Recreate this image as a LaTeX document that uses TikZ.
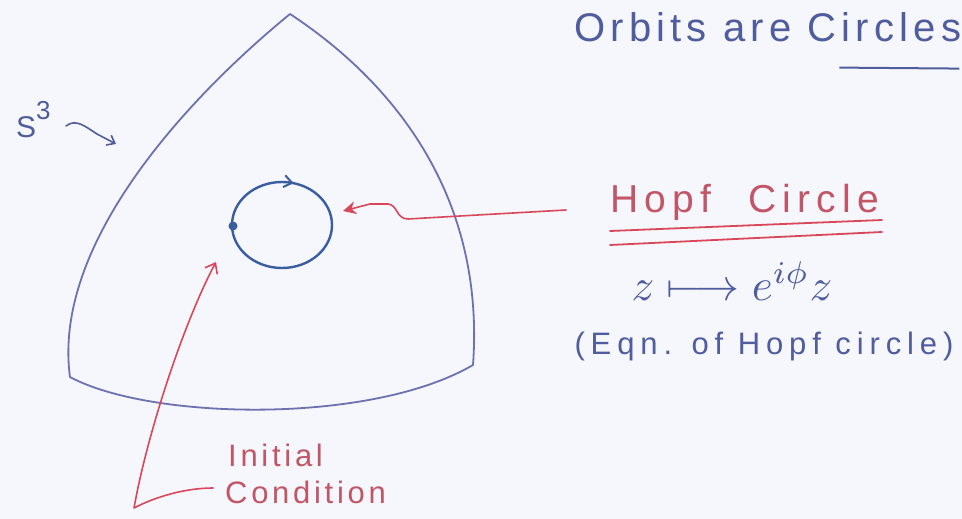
\documentclass[tikz,border=0pt]{standalone}
\usepackage{fontspec}
\usepackage{graphicx}
\setmainfont{Liberation Sans}
\newfontfamily\titlefont[LetterSpace=13]{Liberation Sans}
\newfontfamily\hopffont[LetterSpace=16]{Liberation Sans}
\newfontfamily\eqnfont[LetterSpace=19]{Liberation Sans}
\newfontfamily\icfont[LetterSpace=12]{Liberation Sans}
\newfontfamily\sfont[LetterSpace=6]{Liberation Sans}
\usetikzlibrary{arrows.meta,decorations.markings}
\definecolor{bgcol}{HTML}{F5F7FC}
\definecolor{tricol}{HTML}{6E70B0}
\definecolor{inkcol}{HTML}{4F5C9E}
\definecolor{circcol}{HTML}{3A5DA0}
\definecolor{redink}{HTML}{D9485A}
\definecolor{redtext}{HTML}{C25566}
\tikzset{
  edgeline/.style={draw=tricol, line width=1.8pt, line cap=round, line join=round},
  bluetext/.style={text=inkcol, inner sep=0pt},
  redlabel/.style={text=redtext, inner sep=0pt},
  redarrow/.style={draw=redink, line width=1.6pt, line cap=round, line join=round},
  redline/.style={draw=redink, line width=1.8pt, line cap=round},
}
\begin{document}
\begin{tikzpicture}[x=1pt,y=-1pt]
\fill[bgcol] (0,0) rectangle (962,519);
\useasboundingbox (0,0) rectangle (962,519);

% curvilinear triangle (S^3)
\coordinate (T) at (290,14);
\coordinate (L) at (70,377);
\coordinate (R) at (473,365);
\draw[edgeline] (T) .. controls (185,100) and (52,245) .. (L)
  .. controls (150,420) and (370,425) .. (R)
  .. controls (485,200) and (398,85) .. (T);

% S^3 label
\node[bluetext, anchor=base west, font=\sfont\fontsize{30}{32}\selectfont] (s3) at (16,137) {S\raisebox{18pt}{\fontsize{26}{28}\selectfont 3}};
\coordinate (s3start) at (66,126);
\coordinate (s3tip) at (116,144);
\draw[draw=inkcol, line width=1.6pt, line cap=round, -{Straight Barb[length=7pt,width=11pt]}]
  (s3start) .. controls (76,118) and (86,127) .. (97,134) -- (s3tip);

% Hopf circle
\coordinate (hc) at (282,225);
\draw[draw=circcol, line width=2.4pt, postaction={decorate},
  decoration={markings, mark=at position 0.29 with {\arrow{Straight Barb[length=8pt,width=12pt,line width=2pt]}}}]
  (232,225) arc[start angle=180, end angle=540, x radius=50, y radius=43];
\fill[circcol] (233,226) circle[radius=4.5];

% title
\node[bluetext, anchor=base west, font=\titlefont\fontsize{40}{44}\selectfont] (title) at (574,42) {Orbits are Circles};
\draw[draw=inkcol, line width=2pt] ([xshift=-122pt,yshift=-25pt]title.south east) -- ([xshift=-2pt,yshift=-26pt]title.south east);

% Hopf Circle label
\node[redlabel, anchor=base west, font=\hopffont\fontsize{39}{42}\selectfont] (hopf) at (610,212) {Hopf\hspace{0.95em}Circle};
\coordinate (u1a) at (610,231);
\coordinate (u1b) at (882,220);
\coordinate (u2a) at (610,245);
\coordinate (u2b) at (882,232);
\draw[redline] (u1a) -- (u1b);
\draw[redline] (u2a) -- (u2b);

% arrow to Hopf circle
\coordinate (hopfstart) at (566,210);
\coordinate (hopftip) at (343,211);
\draw[redarrow, -{Stealth[length=13pt,width=13pt]}] (hopfstart) -- (460,216) -- (408,219)
  .. controls (396,219) and (398,205) .. (388,204) -- (370,204) -- (hopftip);

% equation
\node[bluetext] (eqn) at (732,281) {\scalebox{4.5}{$z \longmapsto e^{i\phi} z$}};
\node[bluetext, font=\eqnfont\fontsize{31}{34}\selectfont] (eqnlabel) at (764,346) {(Eqn. of Hopf circle)};

% initial condition
\node[redlabel, anchor=north west, align=left, font=\icfont\fontsize{31}{37}\selectfont] (ic) at (225,444) {\hspace{3pt}Initial\\Condition};
\coordinate (icstart) at (213,488);
\coordinate (ictip) at (216,262);
\draw[redarrow, -{Straight Barb[length=9pt,width=14pt]}]
  (icstart) .. controls (185,488) and (155,497) .. (134,508)
  .. controls (148,430) and (185,320) .. (ictip);
\end{tikzpicture}
\end{document}
